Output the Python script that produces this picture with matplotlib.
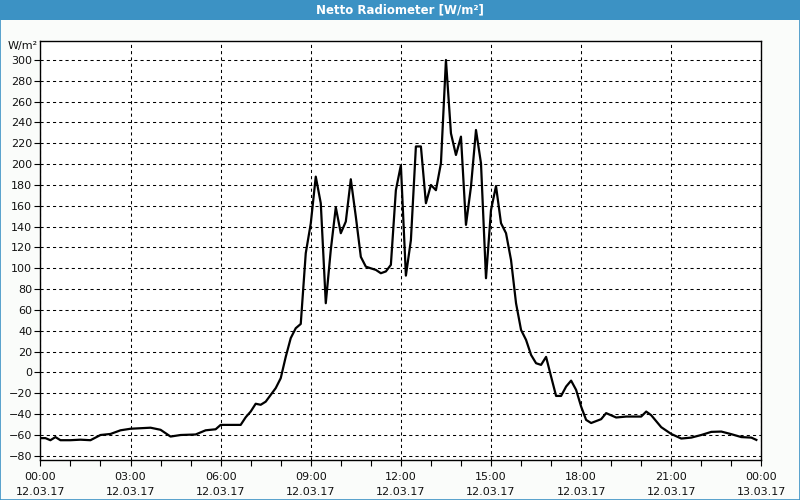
import matplotlib
matplotlib.use("Agg")
import matplotlib.pyplot as plt
from matplotlib.patches import Rectangle

# data (time of day, W/m²)
times = ["00:00", "00:10", "00:20", "00:30", "00:40", "01:00", "01:20", "01:40",
         "02:00", "02:20", "02:40", "03:00", "03:20", "03:40", "04:00", "04:20",
         "04:40", "05:10", "05:30", "05:50", "06:00", "06:40", "06:50", "07:00",
         "07:10", "07:20", "07:30", "07:40", "07:50", "08:00", "08:10", "08:20",
         "08:30", "08:40", "08:50", "09:00", "09:10", "09:20", "09:30", "09:40",
         "09:50", "10:00", "10:10", "10:20", "10:30", "10:40", "10:50", "11:00",
         "11:10", "11:20", "11:30", "11:40", "11:50", "12:00", "12:10", "12:20",
         "12:30", "12:40", "12:50", "13:00", "13:10", "13:20", "13:30", "13:40",
         "13:50", "14:00", "14:10", "14:20", "14:30", "14:40", "14:50", "15:00",
         "15:10", "15:20", "15:30", "15:40", "15:50", "16:00", "16:10", "16:20",
         "16:30", "16:40", "16:50", "17:00", "17:10", "17:20", "17:30", "17:40",
         "17:50", "18:00", "18:10", "18:20", "18:40", "18:50", "19:10", "19:30",
         "20:00", "20:10", "20:20", "20:40", "21:00", "21:20", "21:40", "22:00",
         "22:20", "22:40", "23:00", "23:20", "23:40", "23:50"]
values = [-63, -63, -65, -62, -65, -65, -64.5, -65,
          -60, -59, -55.5, -54, -53.5, -53, -55, -61.5,
          -60, -59.5, -55.5, -54.5, -50.3, -50.3, -43, -37.5,
          -30, -31, -28, -21.5, -15, -5.5, 15, 33,
          42.5, 46.6, 114.5, 143, 188, 162.5, 66.5, 117.7,
          158.6, 133.7, 144.9, 185.5, 149.6, 111, 101.6, 100,
          98.5, 95.3, 97, 103.3, 175, 199, 93, 127,
          217, 217, 162.5, 180, 175, 200.8, 300, 229.6,
          208.8, 226.4, 141.7, 178.4, 232.8, 200.8, 90.5, 156,
          179, 143.3, 133.7, 108, 66.5, 40.9, 31.3, 16.9,
          8.9, 7.3, 15, -3.9, -22.5, -22.5, -13.5, -7.8,
          -16.7, -32.7, -45.5, -48.5, -44.8, -39, -43.2, -42.3,
          -42.3, -37.5, -41, -52.5, -59, -63.4, -62.5, -60,
          -57, -56.7, -59.2, -62, -62.5, -64.7]

tick_hours = [0, 3, 6, 9, 12, 15, 18, 21, 24]
tick_labels = ["00:00\n12.03.17", "03:00\n12.03.17", "06:00\n12.03.17",
               "09:00\n12.03.17", "12:00\n12.03.17", "15:00\n12.03.17",
               "18:00\n12.03.17", "21:00\n12.03.17", "00:00\n13.03.17"]
y_ticks = list(range(-80, 301, 20))

hours = [int(t[:2]) + int(t[3:]) / 60 for t in times]

blue = "#3c92c4"
fig = plt.figure(figsize=(8, 5), dpi=100, facecolor="#fafcfa")

# title bar and frame
fig.patches.append(Rectangle((0, 0.96), 1, 0.04, transform=fig.transFigure,
                             facecolor=blue, edgecolor="none", zorder=0))
fig.patches.append(Rectangle((0.0006, 0.001), 0.9988, 0.998, transform=fig.transFigure,
                             facecolor="none", edgecolor=blue, lw=1.2, zorder=1))
fig.text(0.5, 0.98, "Netto Radiometer [W/m²]", color="white", fontsize=8.5,
         fontweight="bold", ha="center", va="center")
fig.text(0.047, 0.908, "W/m²", fontsize=8, ha="right", va="center", color="#111111")

ax = fig.add_axes([0.0505, 0.08, 0.9012, 0.8386])
ax.set_facecolor("white")
ax.plot(hours, values, color="black", lw=1.6, zorder=3)

ax.set_xlim(0, 24)
ax.set_ylim(-84, 318.5)
ax.set_xticks(tick_hours)
ax.set_xticklabels(tick_labels, linespacing=1.55)
ax.set_xticks(range(25), minor=True)
ax.set_yticks(y_ticks)

ax.grid(True, which="major", color="black", lw=0.75, linestyle=(0, (3, 3)))
ax.tick_params(axis="both", which="both", direction="out", length=4, width=0.8,
               labelsize=8, colors="black", labelcolor="#111111")
ax.tick_params(axis="x", pad=5)
ax.tick_params(axis="y", pad=2)
for s in ax.spines.values():
    s.set_linewidth(1.0)
    s.set_color("black")

fig.savefig("out.png", dpi=100, facecolor=fig.get_facecolor())
